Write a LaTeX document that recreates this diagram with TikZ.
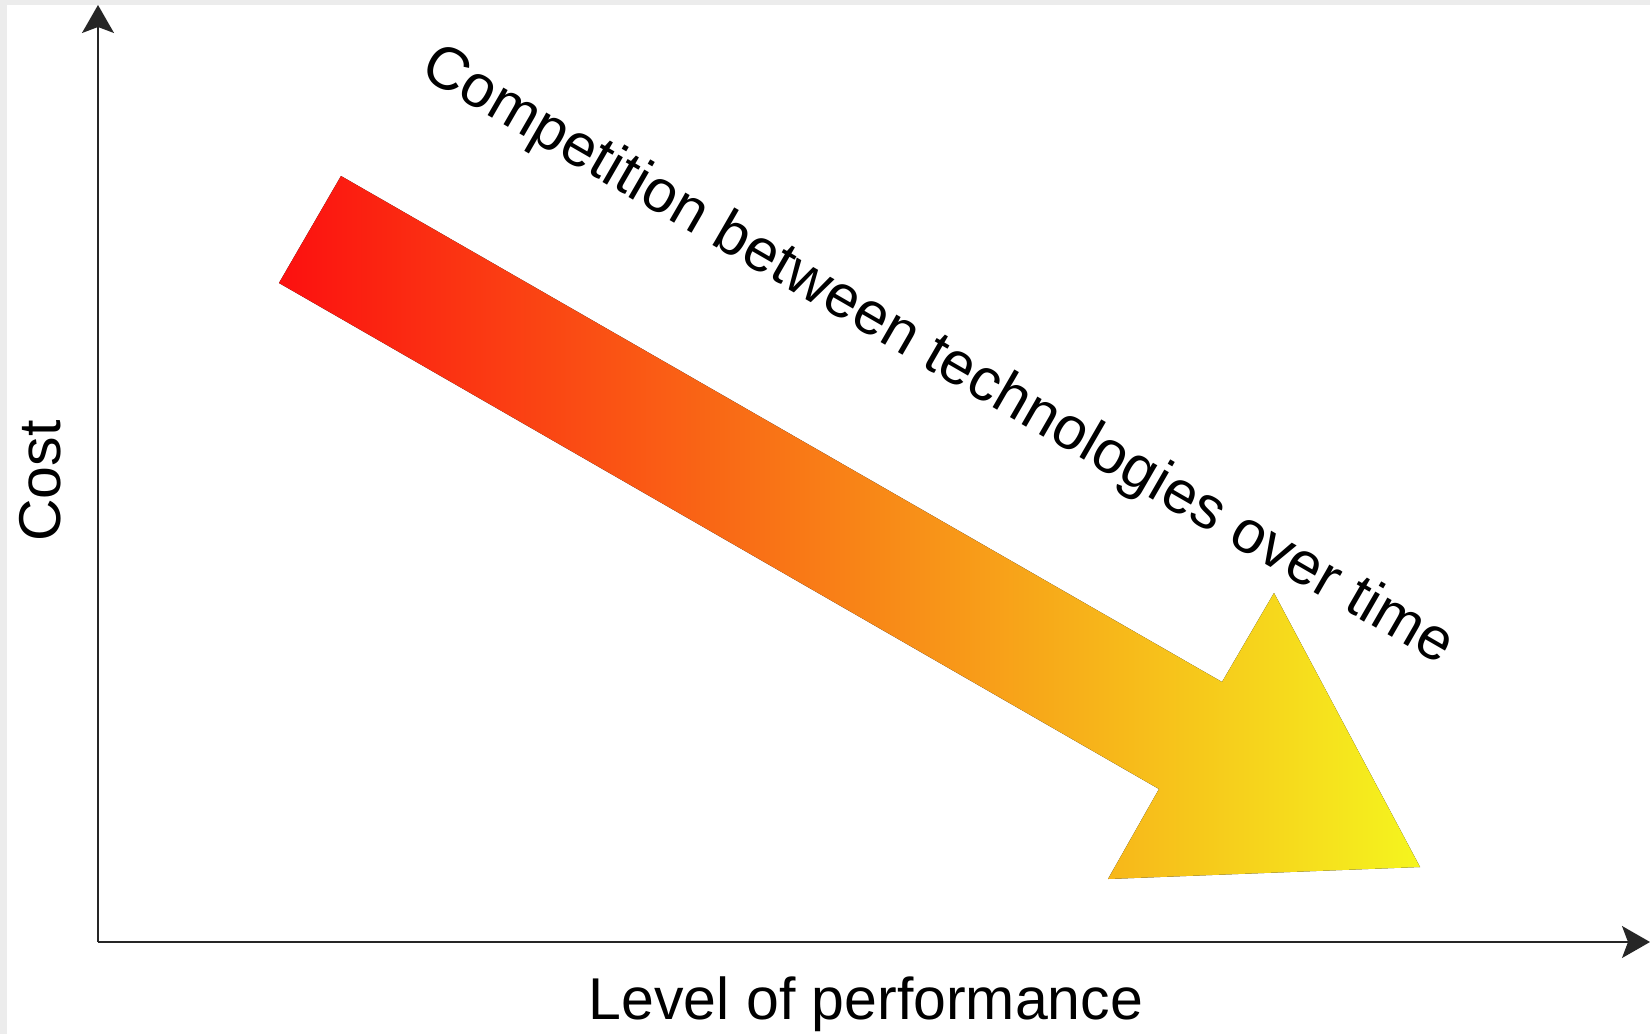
\documentclass[tikz,border=0pt]{standalone}
\usepackage{fontspec}
\setmainfont{Liberation Sans}
\usetikzlibrary{arrows.meta}
\definecolor{redend}{RGB}{252,16,16}
\definecolor{yellowend}{RGB}{245,245,30}
\definecolor{framegrey}{RGB}{236,236,236}
\tikzset{
  axisline/.style={line width=0.65pt, draw=black!85, -{Stealth[length=14pt,width=16pt,inset=3pt]}},
  labeltext/.style={font=\fontsize{29.5}{35}\selectfont, inner sep=0pt},
  bigarrow/.style={left color=redend, right color=yellowend, draw=none}
}
\begin{document}
\begin{tikzpicture}[x=0.5pt,y=-0.5pt]
\useasboundingbox (0,0) rectangle (1650,1034);
\fill[white] (0,0) rectangle (1650,1034);
\fill[framegrey] (0,0) rectangle (1650,5);
\fill[framegrey] (0,0) rectangle (7,1034);
% gradient arrow
\fill[bigarrow] (341,176) -- (1222,682) -- (1274,593) -- (1420,867) -- (1108,879) -- (1159,789) -- (279,283) -- cycle;
% axes
\coordinate (origin) at (98,942);
\coordinate (ytop) at (98,5);
\coordinate (xend) at (1650,942);
\draw[axisline] (origin) -- (ytop);
\draw[axisline] (origin) -- (xend);
% labels
\node[labeltext, rotate=90, anchor=base] (cost) at (60,481) {Cost};
\node[labeltext, anchor=base] (perf) at (866,1019) {Level of performance};
\node[labeltext, font=\fontsize{30}{36}\selectfont, rotate=-30, anchor=center] (comp) at (937,357) {Competition between technologies over time};
\end{tikzpicture}
\end{document}
